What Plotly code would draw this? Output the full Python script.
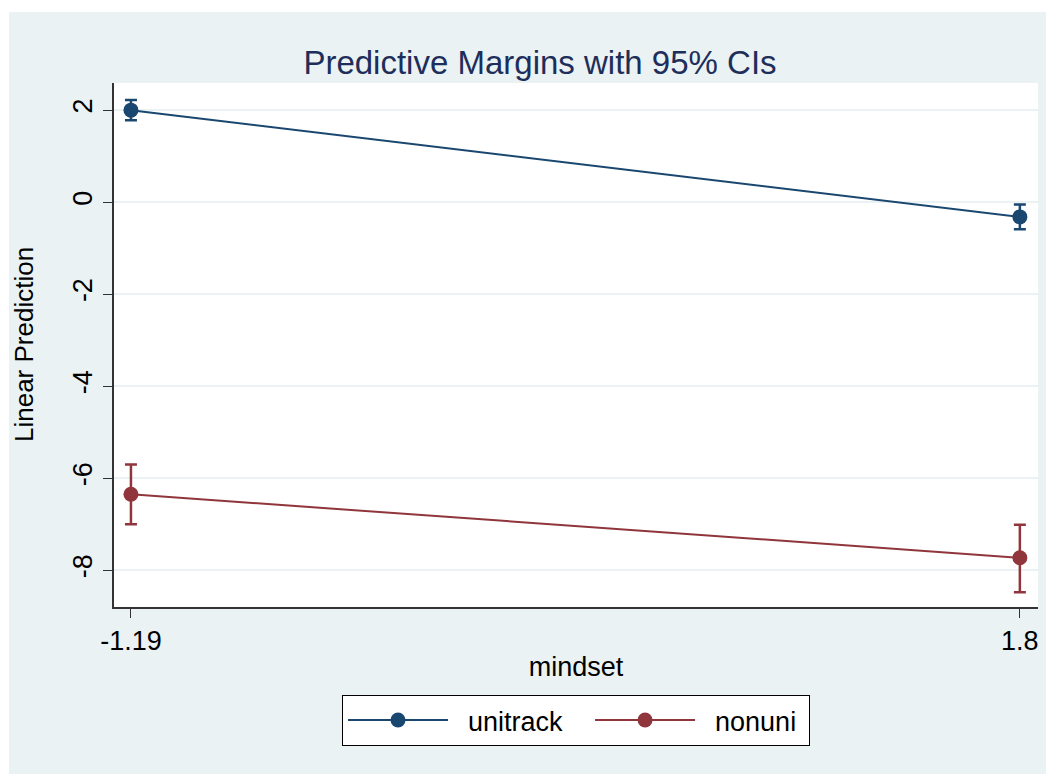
import plotly.graph_objects as go

# margins at the two mindset values
mindset = [-1.19, 1.8]
unitrack = [2.0, -0.32]
unitrack_lo = [1.78, -0.59]
unitrack_hi = [2.22, -0.05]
nonuni = [-6.35, -7.73]
nonuni_lo = [-7.0, -8.48]
nonuni_hi = [-5.70, -7.01]

y_ticks = [2, 0, -2, -4, -6, -8]
y_ticklabels = ['2', '0', '-2', '-4', '-6', '-8']
x_ticks = [-1.19, 1.8]
x_ticklabels = ['-1.19', '1.8']

# page has an 8px body margin, so the figure is a bit smaller than the window
W, H = 1046, 766
L, R, T, B = 106, 16, 75, 167
pw, ph = W - L - R, H - T - B

fig = go.Figure()

def add_series(name, y, lo, hi, color):
    fig.add_trace(go.Scatter(
        x=mindset, y=y, name=name, mode='lines+markers',
        line=dict(color=color, width=2),
        marker=dict(color=color, size=15),
        error_y=dict(type='data', symmetric=False,
                     array=[h - v for h, v in zip(hi, y)],
                     arrayminus=[v - l for l, v in zip(lo, y)],
                     color=color, thickness=2.5, width=6),
    ))

# nbsp padding gives the legend entries the wider Stata spacing
sp = '\u00a0'
add_series(sp * 2 + 'unitrack' + sp * 3, unitrack, unitrack_lo, unitrack_hi, '#1A476F')
add_series(sp * 2 + 'nonuni' + sp, nonuni, nonuni_lo, nonuni_hi, '#90353B')

# thin white strips at the top and left, like the original export
fig.add_shape(type='rect', xref='paper', yref='paper',
              x0=-L / pw, x1=(W - L) / pw, y0=(ph + T - 4) / ph, y1=(ph + T) / ph,
              fillcolor='white', line=dict(width=0))
fig.add_shape(type='rect', xref='paper', yref='paper',
              x0=-L / pw, x1=(1 - L) / pw, y0=-B / ph, y1=(ph + T) / ph,
              fillcolor='white', line=dict(width=0))

# y title at the far left edge
fig.add_annotation(text='Linear Prediction', xref='paper', yref='paper',
                   x=(16 - L) / pw, y=0.5, xanchor='center', yanchor='middle',
                   textangle=-90, showarrow=False,
                   font=dict(size=26, color='black'))

fig.update_layout(
    width=W, height=H,
    margin=dict(l=L, r=R, t=T, b=B),
    paper_bgcolor='#EAF2F3', plot_bgcolor='white',
    font=dict(family='Liberation Sans, Arial', color='black'),
    title=dict(text='Predictive Margins with 95% CIs', x=(532 - L) / pw,
               xref='paper', xanchor='center', y=1 - 54 / H, yanchor='middle',
               font=dict(size=33, color='#1E2E5A')),
    showlegend=True,
    legend=dict(orientation='h', x=0.5, xanchor='center',
                y=-(687 - T - ph) / ph, yanchor='top',
                bgcolor='white', bordercolor='black', borderwidth=1,
                font=dict(size=27), itemwidth=100),
)

fig.update_xaxes(range=[-1.247, 1.861], tickvals=x_ticks, ticktext=x_ticklabels,
                 showgrid=False, zeroline=False, showline=True,
                 linecolor='#333', linewidth=2, ticks='outside', ticklen=9,
                 tickcolor='#333', tickfont=dict(size=27),
                 title=dict(text='mindset', font=dict(size=27), standoff=2))
fig.update_yaxes(range=[-8.8, 2.59], tickvals=y_ticks, ticktext=y_ticklabels,
                 tickangle=-90,
                 showgrid=True, gridcolor='#EAF2F3', gridwidth=2,
                 zeroline=False, showline=True, linecolor='#333', linewidth=2,
                 ticks='outside', ticklen=9, tickcolor='#333',
                 tickfont=dict(size=27))

fig.write_html('out.html')
